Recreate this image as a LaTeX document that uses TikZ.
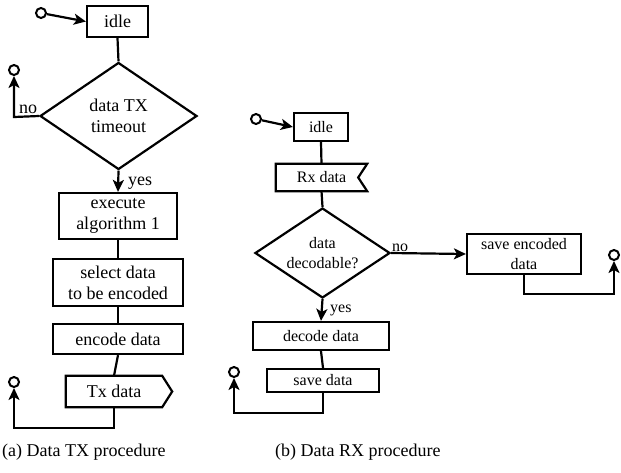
\documentclass[tikz,border=0pt]{standalone}
\usepackage{fontspec}
\setmainfont{Liberation Serif}
\usetikzlibrary{shapes.geometric,arrows.meta,calc}

\tikzset{
  every picture/.style={x=1pt,y=-1pt},
  box/.style={draw,line width=2.2pt,rectangle,inner sep=0pt,align=center},
  plain/.style={inner sep=0pt,align=center},
  decision/.style={draw,line width=2.2pt,diamond,shape aspect=1.5,inner sep=0pt,align=center},
  term/.style={draw,circle,fill=white,line width=2pt,minimum size=10pt,inner sep=0pt},
  link/.style={line width=2.2pt},
  arrowlink/.style={line width=2.2pt,-{Stealth[length=12pt,width=11pt,inset=3pt]}},
  bigtext/.style={font=\fontsize{18}{21}\selectfont},
  smalltext/.style={font=\fontsize{16}{20}\selectfont},
}

\begin{document}
\begin{tikzpicture}
\useasboundingbox (0,0) rectangle (621,472);

% ---------------- transmitter side ----------------
\begin{scope}[bigtext]
\node[term] (startA) at (41,13) {};
\node[box,minimum width=61pt,minimum height=31pt] (idleA) at (117.5,21.5) {idle};
\node[decision,minimum width=157pt,minimum height=107pt] (decA) at (118.5,116) {data TX\\timeout};
\node[box,minimum width=118pt,minimum height=46pt] (execA) at (118,216) {execute\\algorithm 1};
\node[box,minimum width=130pt,minimum height=47pt] (selA) at (118,282.5) {select data\\to be encoded};
\node[box,minimum width=130pt,minimum height=30pt] (encA) at (118,339) {encode data};
\node[plain,minimum width=96pt,minimum height=31pt] (txA) at (114,391.5) {Tx data};
\draw[line width=2.2pt,line join=miter]
  (txA.north west) -- (txA.north east) -- ($(txA.east)+(10,0)$) -- (txA.south east) -- (txA.south west) -- cycle;

\node[term] (endA1) at (14,70) {};
\node[term] (endA2) at (14,382) {};
\coordinate (cornerA1) at (14,117);
\coordinate (cornerA2) at (14,428);
\coordinate (dropA) at (114,428);

\draw[arrowlink] (startA) -- (idleA.west);
\draw[link] (idleA.south) -- (decA.north);
\draw[arrowlink] (decA.west) -- (cornerA1) -- (endA1);
\draw[arrowlink] (decA.south) -- (execA.north);
\draw[link] (execA.south) -- (selA.north);
\draw[link] (selA.south) -- (encA.north);
\draw[link] (encA.south) -- (txA.north);
\draw[arrowlink] (txA.south) -- (dropA) -- (cornerA2) -- (endA2);

\node[plain,anchor=base west] (noA) at (19,113) {no};
\node[plain,anchor=base west] (yesA) at (128,185) {yes};
\end{scope}

% ---------------- receiver side ----------------
\begin{scope}[smalltext]
\node[term] (startB) at (256,119) {};
\node[box,minimum width=54pt,minimum height=28pt] (idleB) at (321,127) {idle};
\node[plain,minimum width=91pt,minimum height=27pt] (rxB) at (321.5,177.5) {Rx data};
\draw[line width=2.2pt,line join=miter]
  (rxB.north west) -- (rxB.north east) -- ($(rxB.east)+(-9,0)$) -- (rxB.south east) -- (rxB.south west) -- cycle;
\node[decision,minimum width=135pt,minimum height=90pt] (decB) at (322.5,253) {data\\decodable?};
\node[box,minimum width=114pt,minimum height=40pt] (saveEnc) at (524,254) {save encoded\\data};
\node[box,minimum width=136pt,minimum height=28pt] (decodeB) at (321,336) {decode data};
\node[box,minimum width=112pt,minimum height=23pt] (saveB) at (323,380.5) {save data};

\node[term] (endB1) at (614,255) {};
\node[term] (endB2) at (234,372) {};
\coordinate (dropB1) at (524,294);
\coordinate (cornerB1) at (614,294);
\coordinate (dropB2) at (323,413);
\coordinate (cornerB2) at (234,413);

\draw[arrowlink] (startB) -- (idleB.west);
\draw[link] (idleB.south) -- (rxB.north);
\draw[link] (rxB.south) -- (decB.north);
\draw[arrowlink] (decB.east) -- (saveEnc.west);
\draw[arrowlink] (decB.south) -- (decodeB.north);
\draw[link] (decodeB.south) -- (saveB.north);
\draw[arrowlink] (saveEnc.south) -- (dropB1) -- (cornerB1) -- (endB1);
\draw[arrowlink] (saveB.south) -- (dropB2) -- (cornerB2) -- (endB2);

\node[plain,anchor=base west] (noB) at (392,251) {no};
\node[plain,anchor=base west] (yesB) at (330,312) {yes};
\end{scope}

% ---------------- captions ----------------
\node[plain,anchor=west,font=\fontsize{18}{21}\selectfont] (capA) at (2,452) {(a) Data TX procedure};
\node[plain,anchor=west,font=\fontsize{18}{21}\selectfont] (capB) at (275,452) {(b) Data RX procedure};
\end{tikzpicture}
\end{document}
